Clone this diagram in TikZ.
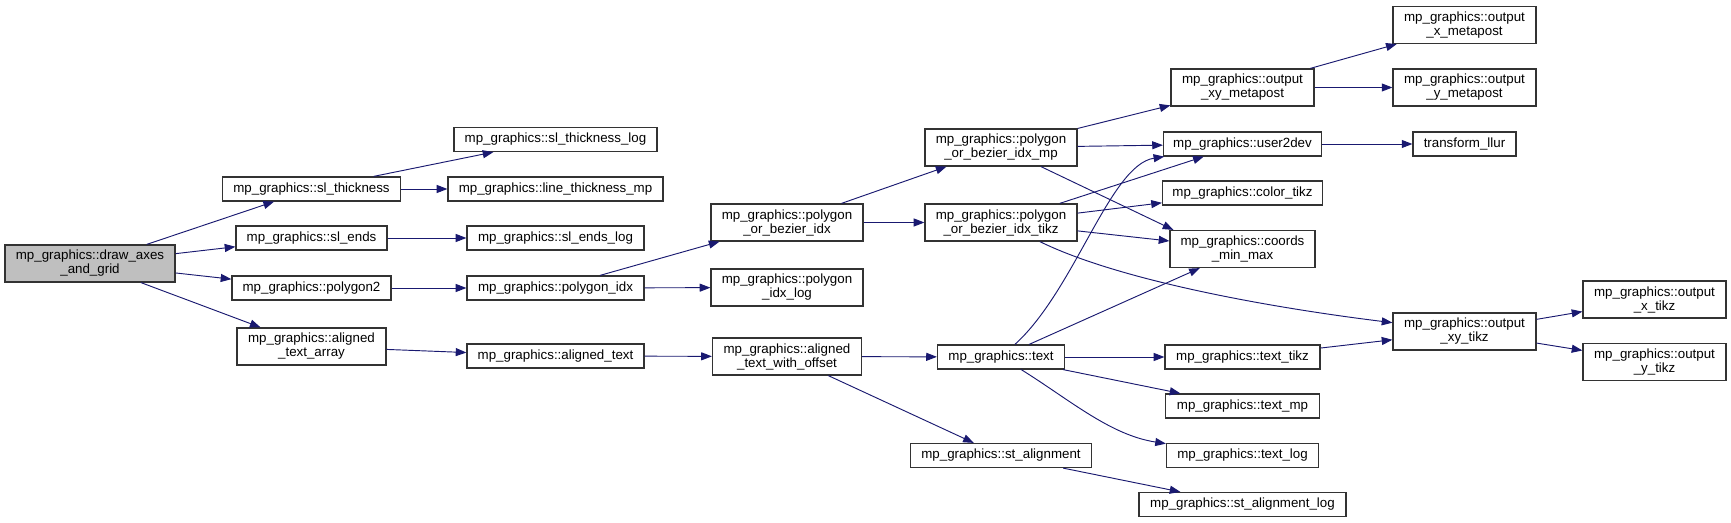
\documentclass[tikz,border=0pt]{standalone}
\usepackage{fontspec}
\setsansfont{Liberation Sans}
\usetikzlibrary{arrows.meta, positioning}
\definecolor{callblue}{HTML}{191970}
\definecolor{rootgray}{HTML}{BFBFBF}
\definecolor{boxedge}{HTML}{333333}

\begin{document}
\begin{tikzpicture}[
    x=0.75pt, y=-0.75pt,
    font=\sffamily\fontsize{10}{10.5}\selectfont,
    >={Triangle[length=8pt, width=6pt]},
    % ── shared styles ──
    fn/.style={draw=boxedge, line width=0.9pt, fill=white, inner sep=0pt,
        align=center, minimum height=18pt, minimum width=#1*0.75pt},
    fn two/.style={fn=#1, minimum height=27.75pt},
    fn root/.style={fn two=#1, fill=rootgray},
    call/.style={->, draw=callblue, line width=0.7pt},
]

% ══════════════════════════════════════════════════════════════════════
%  DIMENSIONS — one column per call depth
% ══════════════════════════════════════════════════════════════════════
\def\colA{90}     \def\colB{311.5}  \def\colC{555.5}  \def\colD{787}
\def\colE{1001}   \def\colF{1242.5} \def\colG{1464.5} \def\colH{1654.5}

\path[fill=white, use as bounding box] (0,0) rectangle (1731,523);

% ══════════════════════════════════════════════════════════════════════
%  CALLER + FIRST LEVEL
% ══════════════════════════════════════════════════════════════════════
\node[fn root=170] (drawaxes) at (\colA,263.5) {mp\_graphics::draw\_axes\\\_and\_grid};

\node[fn=178] (slthick) at (\colB,189) {mp\_graphics::sl\_thickness};
\node[fn=151] (slends)  at (\colB,238) {mp\_graphics::sl\_ends};
\node[fn=159] (poly2)   at (\colB,288) {mp\_graphics::polygon2};
\node[fn two=149] (atarray) at (\colB,346.5) {mp\_graphics::aligned\\\_text\_array};

% ══════════════════════════════════════════════════════════════════════
%  SECOND + THIRD LEVEL
% ══════════════════════════════════════════════════════════════════════
\node[fn=203] (slthicklog) at (\colC,139.5) {mp\_graphics::sl\_thickness\_log};
\node[fn=215] (linethick)  at (\colC,189)   {mp\_graphics::line\_thickness\_mp};
\node[fn=177] (slendslog)  at (\colC,238)   {mp\_graphics::sl\_ends\_log};
\node[fn=177] (polyidx)    at (\colC,288)   {mp\_graphics::polygon\_idx};
\node[fn=177] (atext)      at (\colC,356)   {mp\_graphics::aligned\_text};

\node[fn two=152] (pobidx)     at (\colD,222.5) {mp\_graphics::polygon\\\_or\_bezier\_idx};
\node[fn two=152] (polyidxlog) at (\colD,287.5) {mp\_graphics::polygon\\\_idx\_log};
\node[fn two=149] (atoffset)   at (\colD,356.5) {mp\_graphics::aligned\\\_text\_with\_offset};

% ══════════════════════════════════════════════════════════════════════
%  BACK ENDS (mp / tikz) + TEXT
% ══════════════════════════════════════════════════════════════════════
\node[fn two=152] (pobmp)   at (\colE,147.5) {mp\_graphics::polygon\\\_or\_bezier\_idx\_mp};
\node[fn two=152] (pobtikz) at (\colE,222.5) {mp\_graphics::polygon\\\_or\_bezier\_idx\_tikz};
\node[fn=127] (txt)     at (\colE,357)   {mp\_graphics::text};
\node[fn=181] (stalign) at (\colE,455.5) {mp\_graphics::st\_alignment};

\node[fn two=143] (xymp)  at (\colF,87.5) {mp\_graphics::output\\\_xy\_metapost};
\node[fn=158] (usr2dev)   at (\colF,144)  {mp\_graphics::user2dev};
\node[fn=160] (colortikz) at (\colF,193)  {mp\_graphics::color\_tikz};
\node[fn two=145] (coords) at (\colF,249) {mp\_graphics::coords\\\_min\_max};
\node[fn=155] (txttikz)    at (\colF,357)   {mp\_graphics::text\_tikz};
\node[fn=154] (txtmp)      at (\colF,406)   {mp\_graphics::text\_mp};
\node[fn=152] (txtlog)     at (\colF,455.5) {mp\_graphics::text\_log};
\node[fn=207] (stalignlog) at (\colF,504.5) {mp\_graphics::st\_alignment\_log};

% ══════════════════════════════════════════════════════════════════════
%  OUTPUT HELPERS
% ══════════════════════════════════════════════════════════════════════
\node[fn two=143] (xmp)  at (\colG,25)    {mp\_graphics::output\\\_x\_metapost};
\node[fn two=143] (ymp)  at (\colG,87.5)  {mp\_graphics::output\\\_y\_metapost};
\node[fn=103] (llur)     at (\colG,144)   {transform\_llur};
\node[fn two=143] (xytikz) at (\colG,331.5) {mp\_graphics::output\\\_xy\_tikz};

\node[fn two=143] (xtikz) at (\colH,299.5) {mp\_graphics::output\\\_x\_tikz};
\node[fn two=143] (ytikz) at (\colH,362)   {mp\_graphics::output\\\_y\_tikz};

% ══════════════════════════════════════════════════════════════════════
%  CALLS
% ══════════════════════════════════════════════════════════════════════
\draw[call] (drawaxes) -- (slthick);
\draw[call] (drawaxes) -- (slends);
\draw[call] (drawaxes) -- (poly2);
\draw[call] (drawaxes) -- (atarray);

\draw[call] (slthick) -- (slthicklog);
\draw[call] (slthick) -- (linethick);
\draw[call] (slends) -- (slendslog);
\draw[call] (poly2) -- (polyidx);
\draw[call] (atarray) -- (atext);

\draw[call] (polyidx) -- (pobidx);
\draw[call] (polyidx) -- (polyidxlog);
\draw[call] (atext) -- (atoffset);

\draw[call] (pobidx) -- (pobmp);
\draw[call] (pobidx) -- (pobtikz);
\draw[call] (atoffset) -- (txt);
\draw[call] (atoffset) -- (stalign);

\draw[call] (pobmp) -- (xymp);
\draw[call] (pobmp) -- (usr2dev);
\draw[call] (pobmp) -- ([xshift=3pt]coords.north west);
\draw[call] (pobtikz) -- (usr2dev);
\draw[call] (pobtikz) -- (colortikz);
\draw[call] (pobtikz) -- (coords);
\draw[call] (pobtikz) .. controls (1120,281) and (1273,308) .. (xytikz);

\draw[call] (txt) .. controls (1075,290) and (1110,165) .. ([xshift=1pt]usr2dev.south west);
\draw[call] (txt) -- (coords);
\draw[call] (txt) -- (txttikz);
\draw[call] (txt) -- (txtmp);
\draw[call] (txt) .. controls (1070,400) and (1110,435) .. (txtlog);
\draw[call] (stalign) -- (stalignlog);

\draw[call] (xymp) -- (xmp);
\draw[call] (xymp) -- (ymp);
\draw[call] (usr2dev) -- (llur);
\draw[call] (txttikz) -- (xytikz);
\draw[call] (xytikz) -- (xtikz);
\draw[call] (xytikz) -- (ytikz);

\end{tikzpicture}
\end{document}
